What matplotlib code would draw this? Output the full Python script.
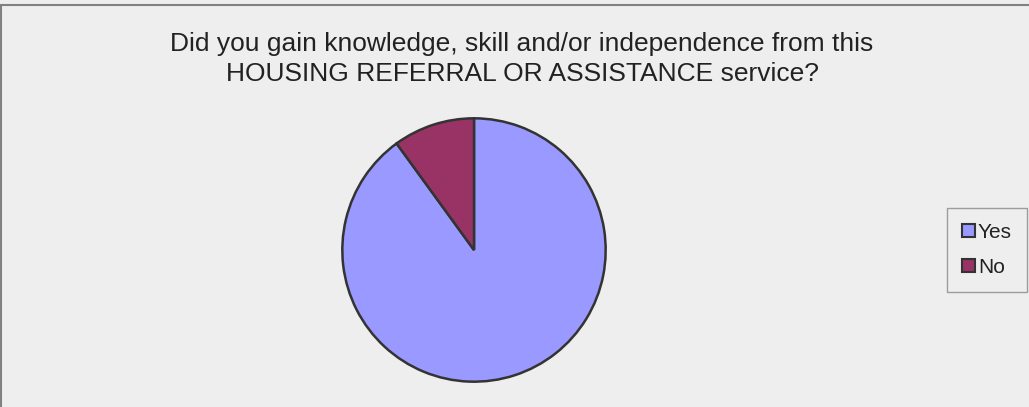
import matplotlib
matplotlib.use('Agg')
import matplotlib.pyplot as plt
from matplotlib.patches import Rectangle

plt.rcParams['font.family'] = ['Liberation Sans Narrow', 'Liberation Sans', 'DejaVu Sans']

labels = ['Yes', 'No']
values = [90, 10]
colors = ['#9999FF', '#993366']

title = ('Did you gain knowledge, skill and/or independence from this\n'
         'HOUSING REFERRAL OR ASSISTANCE service?')

W, H = 1029, 407
fig = plt.figure(figsize=(W / 100, H / 100), dpi=100)
fig.patch.set_facecolor('#EEEEEE')

# chart area border (left and top edges only show)
fig.patches.append(Rectangle((1 / W, -0.2), 1.2, 1.2 - 5 / H, transform=fig.transFigure,
                             facecolor='none', edgecolor='#808080', linewidth=1.5))

fig.text(522 / W, 1 - 59 / H, title, ha='center', va='center', fontsize=19,
         color='#222222', linespacing=1.3)

cx, cy, r = 474, 250, 133
ax = fig.add_axes([(cx - r) / W, (H - cy - r) / H, 2 * r / W, 2 * r / H])
wedges, _ = ax.pie(values, colors=colors, startangle=90, counterclock=False,
                   wedgeprops=dict(edgecolor='#333333', linewidth=1.8))
ax.set_aspect('auto')
ax.set_xlim(-1.01, 1.01)
ax.set_ylim(-1.01, 1.01)

leg = fig.legend(wedges, labels, loc='center', bbox_to_anchor=(987 / W, 1 - 250 / H),
                 frameon=True, fancybox=False, edgecolor='#888888', facecolor='#EEEEEE',
                 fontsize=15, handlelength=0.6, handleheight=0.6, handletextpad=0.15,
                 labelspacing=0.75, borderpad=0.75, labelcolor='#222222')
leg.get_frame().set_linewidth(1)
for h in leg.legend_handles:
    h.set_linewidth(1.5)

fig.savefig('out.png', dpi=100, facecolor=fig.get_facecolor())
